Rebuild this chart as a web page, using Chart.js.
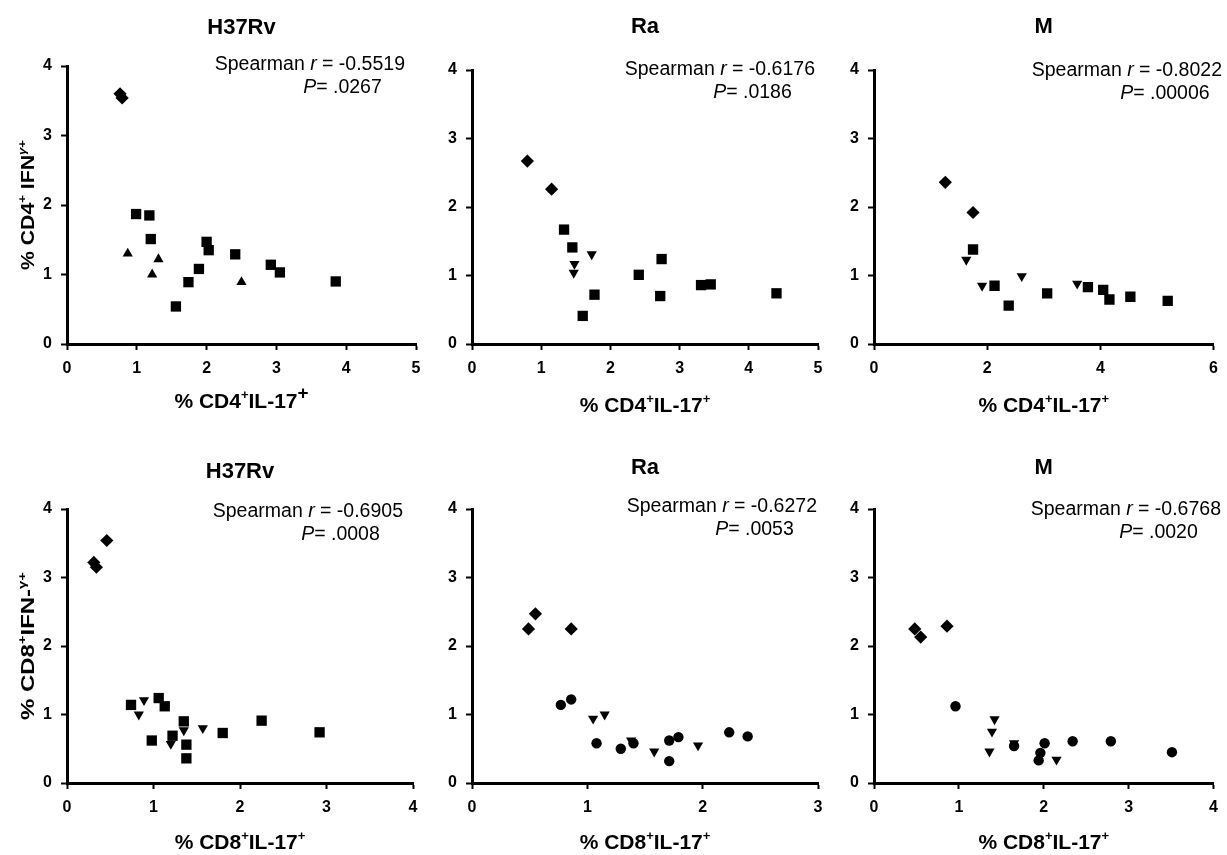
<!DOCTYPE html>
<html>
<head>
<meta charset="utf-8">
<script src="https://cdn.jsdelivr.net/npm/chart.js@4.4.0/dist/chart.umd.min.js"></script>
<style>
html, body { margin: 0; padding: 0; background: #fff; }
#wrap { position: relative; width: 1227px; height: 855px; }
#wrap canvas { position: absolute; left: 0; top: 0; }
</style>
</head>
<body>
<div id="wrap"></div>
<script>
// ---- data ----
const strains = ['H37Rv', 'Ra', 'M', 'H37Rv', 'Ra', 'M'];
const spearman_r = ['-0.5519', '-0.6176', '-0.8022', '-0.6905', '-0.6272', '-0.6768'];
const p_values = ['.0267', '.0186', '.00006', '.0008', '.0053', '.0020'];
const x_max = [5, 5, 6, 4, 3, 4];
const x_step = [1, 1, 2, 1, 1, 1];
const y_max = 4;

// CD4+ panels
const cd4_h37rv_diamond = [[0.76, 3.60], [0.79, 3.54]];
const cd4_h37rv_triangle = [[0.87, 1.30], [1.31, 1.22], [1.22, 1.00], [2.50, 0.89]];
const cd4_h37rv_square = [[0.99, 1.87], [1.18, 1.85], [1.20, 1.51], [2.00, 1.47], [2.03, 1.35], [2.41, 1.29],
  [1.89, 1.08], [1.74, 0.89], [1.56, 0.54], [2.92, 1.14], [3.05, 1.03], [3.85, 0.90]];

const cd4_ra_diamond = [[0.80, 2.67], [1.15, 2.26]];
const cd4_ra_down = [[1.73, 1.31], [1.48, 1.17], [1.47, 1.04]];
const cd4_ra_square = [[1.33, 1.67], [1.45, 1.41], [1.77, 0.72], [1.60, 0.41], [2.41, 1.01], [2.74, 1.24],
  [2.72, 0.70], [3.31, 0.86], [3.45, 0.87], [4.40, 0.74]];

const cd4_m_diamond = [[1.26, 2.36], [1.75, 1.92]];
const cd4_m_down = [[1.63, 1.23], [1.91, 0.85], [2.61, 0.99], [3.59, 0.88]];
const cd4_m_square = [[1.75, 1.38], [2.13, 0.85], [2.38, 0.56], [3.06, 0.74], [3.78, 0.83], [4.05, 0.79],
  [4.16, 0.65], [4.53, 0.69], [5.19, 0.63]];

// CD8+ panels
const cd8_h37rv_diamond = [[0.31, 3.22], [0.34, 3.15], [0.46, 3.54]];
const cd8_h37rv_down = [[0.89, 1.21], [0.83, 1.00], [1.35, 0.77], [1.20, 0.57], [1.57, 0.80]];
const cd8_h37rv_square = [[0.74, 1.14], [1.06, 1.24], [1.13, 1.12], [0.98, 0.62], [1.35, 0.90], [1.22, 0.69],
  [1.38, 0.56], [1.38, 0.36], [1.80, 0.73], [2.25, 0.91], [2.92, 0.74]];

const cd8_ra_diamond = [[0.49, 2.25], [0.55, 2.47], [0.86, 2.25]];
const cd8_ra_down = [[1.05, 0.94], [1.15, 1.00], [1.38, 0.62], [1.58, 0.46], [1.96, 0.55]];
const cd8_ra_circle = [[0.77, 1.14], [0.86, 1.22], [1.08, 0.58], [1.29, 0.50], [1.40, 0.58], [1.71, 0.62],
  [1.79, 0.67], [1.71, 0.32], [2.23, 0.74], [2.39, 0.68]];

const cd8_m_diamond = [[0.48, 2.25], [0.55, 2.13], [0.86, 2.29]];
const cd8_m_down = [[1.42, 0.93], [1.39, 0.75], [1.36, 0.46], [1.65, 0.58], [2.15, 0.34]];
const cd8_m_circle = [[0.96, 1.12], [1.65, 0.54], [2.01, 0.58], [1.96, 0.44], [1.94, 0.33], [2.34, 0.61],
  [2.79, 0.61], [3.51, 0.45]];

// ---- layout ----
const W = 1227, H = 855;
const FONT = "'Liberation Sans', Arial, sans-serif";
const Y_W = 40, X_H = 30;

const cd4_x = [{t: '% CD4'}, {t: '+', sup: true}, {t: 'IL-17'}, {t: '+', sup: true}];
const cd4_x_big = [{t: '% CD4'}, {t: '+', sup: true}, {t: 'IL-17'}, {t: '+', sup: true, k: 0.9}];
const cd8_x = [{t: '% CD8'}, {t: '+', sup: true}, {t: 'IL-17'}, {t: '+', sup: true}];
const cd4_y = [{t: '% CD4'}, {t: '+', sup: true}, {t: ' IFN'}, {t: 'γ', sup: true, italic: true}, {t: '+', sup: true}];
const cd8_y = [{t: '% CD8'}, {t: '+', sup: true}, {t: 'IFN-'}, {t: 'γ', sup: true}, {t: '+', sup: true}];

const panels = [
  {area: [67, 66, 416, 344], titleY: 26, textR: 405, textY: 70, xTitle: cd4_x_big, xTitleY: 400,
   yTitle: cd4_y, yTitleX: 27, yLen: 130,
   sets: [[cd4_h37rv_diamond, 'rectRot'], [cd4_h37rv_triangle, 'triangle'], [cd4_h37rv_square, 'rect']]},
  {area: [472, 70, 818, 344], titleY: 25, textR: 815, textY: 75, xTitle: cd4_x, xTitleY: 404,
   sets: [[cd4_ra_diamond, 'rectRot'], [cd4_ra_down, 'down'], [cd4_ra_square, 'rect']]},
  {area: [874, 70, 1220, 344], titleY: 25, textR: 1222, textY: 76, xTitle: cd4_x, xTitleY: 404,
   sets: [[cd4_m_diamond, 'rectRot'], [cd4_m_down, 'down'], [cd4_m_square, 'rect']]},
  {area: [67, 509, 413, 783], titleY: 470, textR: 403, textY: 517, xTitle: cd8_x, xTitleY: 841,
   yTitle: cd8_y, yTitleX: 27, yLen: 148,
   sets: [[cd8_h37rv_diamond, 'rectRot'], [cd8_h37rv_down, 'down'], [cd8_h37rv_square, 'rect']]},
  {area: [472, 509, 818, 783], titleY: 466, textR: 817, textY: 512, xTitle: cd8_x, xTitleY: 841,
   sets: [[cd8_ra_diamond, 'rectRot'], [cd8_ra_down, 'down'], [cd8_ra_circle, 'circle']]},
  {area: [874, 509, 1220, 783], titleY: 466, textR: 1221, textY: 515, xTitle: cd8_x, xTitleY: 841,
   sets: [[cd8_m_diamond, 'rectRot'], [cd8_m_down, 'down'], [cd8_m_circle, 'circle']]}
];

const marker = {
  rectRot: {pointStyle: 'rectRot', pointRadius: 6.6, pointRotation: 0},
  rect: {pointStyle: 'rect', pointRadius: 7.3, pointRotation: 0},
  triangle: {pointStyle: 'triangle', pointRadius: 5.9, pointRotation: 0},
  down: {pointStyle: 'triangle', pointRadius: 5.9, pointRotation: 180},
  circle: {pointStyle: 'circle', pointRadius: 5.2, pointRotation: 0}
};

// ---- text helpers ----
function seg_font(s, size, bold){
  let sz = s.sup ? size * (s.k || 0.62) : size;
  return `${s.italic ? 'italic ' : ''}${bold ? 'bold ' : ''}${sz}px ${FONT}`;
}
function rich_width(ctx, segs, size, bold){
  let w = 0;
  segs.forEach((s) => { ctx.font = seg_font(s, size, bold); w += ctx.measureText(s.t).width; });
  return w;
}
function draw_rich(ctx, segs, x, y, size, bold){
  segs.forEach((s) => {
    ctx.font = seg_font(s, size, bold);
    ctx.fillText(s.t, x, s.sup ? y - size * 0.42 : y);
    x += ctx.measureText(s.t).width;
  });
}

function panel_text(i){
  let p = panels[i];
  return {
    id: 'panel_text_' + i,
    afterDraw: (chart) => {
      let ctx = chart.ctx;
      let a = chart.chartArea;
      let cx = (a.left + a.right) / 2;
      ctx.save();
      ctx.fillStyle = '#000';
      ctx.textBaseline = 'alphabetic';
      ctx.textAlign = 'left';

      // strain title
      ctx.font = `bold 22px ${FONT}`;
      let tw = ctx.measureText(strains[i]).width;
      ctx.fillText(strains[i], cx - tw / 2, p.titleY + 22 * 0.716 / 2);

      // spearman block
      let fs = 19.5;
      let line1 = [{t: 'Spearman '}, {t: 'r', italic: true}, {t: ' = ' + spearman_r[i]}];
      let w1 = rich_width(ctx, line1, fs, false);
      let x1 = p.textR - w1;
      draw_rich(ctx, line1, x1, p.textY, fs, false);
      ctx.font = `${fs}px ${FONT}`;
      let rx = x1 + ctx.measureText('Spearman ').width;
      draw_rich(ctx, [{t: 'P', italic: true}, {t: '= ' + p_values[i]}], rx - 7, p.textY + 23, fs, false);

      // x axis title
      let xs = 21;
      let xw = rich_width(ctx, p.xTitle, xs, true);
      draw_rich(ctx, p.xTitle, cx - xw / 2, p.xTitleY + xs * 0.716 / 2, xs, true);

      // y axis title
      if (p.yTitle){
        let ys = 19;
        let yw = rich_width(ctx, p.yTitle, ys, true);
        let cy = (a.top + a.bottom) / 2;
        ctx.translate(p.yTitleX, cy);
        ctx.rotate(-Math.PI / 2);
        ctx.scale(p.yLen / yw, 1);
        draw_rich(ctx, p.yTitle, -yw / 2, ys * 0.716 / 2, ys, true);
      }
      ctx.restore();
    }
  };
}

function axis(min, max, step, fit){
  return {
    type: 'linear',
    min: min,
    max: max,
    ticks: {
      stepSize: step,
      color: '#000',
      padding: 9,
      font: {family: FONT, size: 16, weight: 'bold'}
    },
    grid: {
      drawOnChartArea: false,
      drawTicks: true,
      tickLength: 6,
      tickWidth: 2,
      tickColor: '#000',
      color: '#000'
    },
    border: {display: true, color: '#000', width: 3},
    afterFit: fit
  };
}

let wrap = document.getElementById('wrap');
panels.forEach((p, i) => {
  let canvas = document.createElement('canvas');
  canvas.width = W;
  canvas.height = H;
  wrap.appendChild(canvas);
  let [l, t, r, b] = p.area;
  let datasets = p.sets.map(([pts, kind]) => Object.assign({
    data: pts.map(([x, y]) => ({x: x, y: y})),
    backgroundColor: '#000',
    borderColor: '#000',
    borderWidth: 0
  }, marker[kind]));
  new Chart(canvas, {
    type: 'scatter',
    data: {datasets: datasets},
    options: {
      responsive: false,
      animation: false,
      events: [],
      layout: {padding: {left: l - Y_W, top: t, right: W - r, bottom: H - b - X_H}},
      plugins: {legend: {display: false}, tooltip: {enabled: false}},
      scales: {
        x: axis(0, x_max[i], x_step[i], (s) => { s.height = X_H; }),
        y: axis(0, y_max, 1, (s) => { s.width = Y_W; })
      }
    },
    plugins: [panel_text(i)]
  });
});
</script>
</body>
</html>
